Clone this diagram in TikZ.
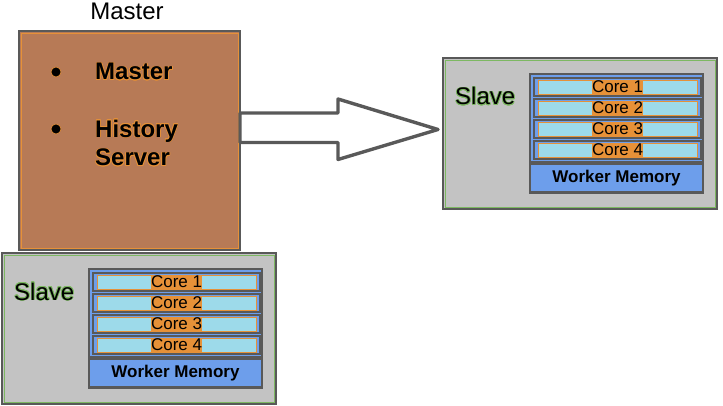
\documentclass[tikz,border=0pt]{standalone}
\usepackage{fontspec}
\setmainfont{Liberation Sans}
\usepackage{contour}
\contourlength{0.7pt}
\usetikzlibrary{positioning}

\definecolor{edgegrey}{HTML}{595959}
\definecolor{masterbrown}{HTML}{B77A56}
\definecolor{lineorange}{HTML}{E69138}
\definecolor{slavegrey}{HTML}{C3C3C3}
\definecolor{slavegreen}{HTML}{7DB862}
\definecolor{corecyan}{HTML}{9DDAEA}
\definecolor{memblue}{HTML}{6D9EEB}

\begin{document}
\begin{tikzpicture}[x=1pt,y=-1pt,
  box/.style={draw=edgegrey,line width=1.6pt,inner sep=0pt,outer sep=0pt,anchor=north west},
  masterbox/.style={box,fill=masterbrown,minimum width=221pt,minimum height=219pt},
  slavebox/.style={box,fill=slavegrey,minimum width=274pt,minimum height=151pt},
  corebox/.style={box,line width=2.2pt,fill=memblue,minimum width=173pt,minimum height=88pt},
  corerow/.style={draw=edgegrey,line width=2.2pt,fill=memblue,inner sep=0pt,minimum width=167pt,minimum height=18pt},
  corebar/.style={draw=lineorange,line width=0.8pt,fill=corecyan,inner sep=0pt,minimum width=159pt,minimum height=14pt},
  corelabel/.style={fill=lineorange,inner sep=0pt,minimum height=13pt,font=\fontsize{17}{18}\selectfont},
  membox/.style={draw=edgegrey,line width=2.4pt,fill=memblue,inner sep=0pt,outer sep=0pt,minimum width=173pt,minimum height=29pt,font=\fontsize{17}{19}\selectfont\bfseries},
  bigtext/.style={inner sep=0pt,font=\fontsize{24}{28.8}\selectfont},
  dot/.style={circle,fill=black,draw=lineorange,line width=0.6pt,inner sep=0pt,minimum size=10pt},
  blockarrow/.style={draw=edgegrey,line width=3.4pt,fill=white,line join=round}]
\useasboundingbox (0,0) rectangle (723,406);

% master
\node[bigtext,font=\fontsize{24}{28}\selectfont,anchor=base] (title) at (127,20) {Master};
\node[masterbox] (master) at (19,31) {};
\draw[lineorange,line width=0.8pt] ([shift={(2pt,-2pt)}]master.north west) rectangle ([shift={(-2pt,2pt)}]master.south east);
\node[dot] (dot1) at (56,72) {};
\node[dot] (dot2) at (56,129) {};
\node[bigtext,font=\fontsize{24}{28.8}\selectfont\bfseries,anchor=base west] (m1) at (95,80) {\contour{lineorange}{Master}};
\node[bigtext,font=\fontsize{24}{28.8}\selectfont\bfseries,anchor=north west,align=left] (m2) at (95,119.5)
  {\contour{lineorange}{History}\\\contour{lineorange}{Server}};

% slaves
\foreach \s/\x/\y in {a/2/253,b/443/58}{
  \begin{scope}[shift={(\x,\y)}]
    \node[slavebox] (\s) at (0,0) {};
    \draw[slavegreen,line width=0.8pt] ([shift={(2pt,-2pt)}]\s.north west) rectangle ([shift={(-2pt,2pt)}]\s.south east);
    \node[bigtext,anchor=base west] (\s label) at (12,47) {\contour{slavegreen}{Slave}};
    \node[corebox] (\s cores) at (87,16) {};
    \foreach \c in {1,...,4}{
      \node[corerow,anchor=north west] (\s row\c) at (90,{19+21*(\c-1)}) {};
      \node[corebar] (\s bar\c) at (\s row\c) {};
      \node[corelabel] (\s core\c) at (\s row\c) {Core \c};
    }
    \node[membox,below=1.5pt of \s cores] (\s mem) {Worker Memory};
  \end{scope}
}

% arrow
\coordinate (tail) at ([yshift=13pt]master.east);
\coordinate (tip) at ([xshift=-5pt,yshift=4pt]b.west);
\draw[blockarrow] (tail) ++(0,-14.5) -- ++(98,0) -- ++(0,-14) -- (tip) -- ++(-100,30) -- ++(0,-17) -- ++(-98,0) -- cycle;
\end{tikzpicture}
\end{document}
